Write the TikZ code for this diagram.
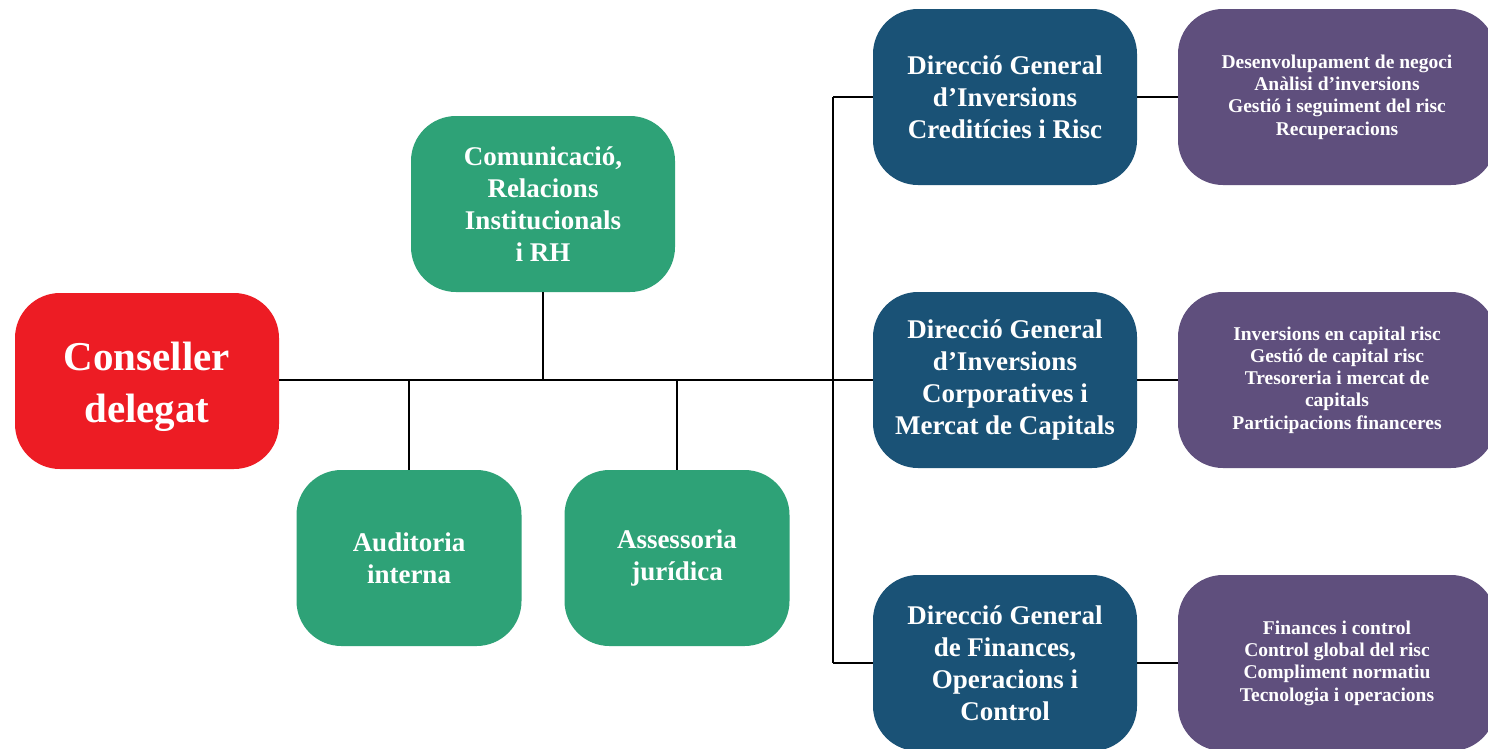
\documentclass[tikz,border=0pt]{standalone}
\usepackage{fontspec}
\setmainfont{Liberation Serif}
\definecolor{cred}{HTML}{ED1C24}
\definecolor{cgreen}{HTML}{2EA277}
\definecolor{cblue}{HTML}{1A5276}
\definecolor{cpurple}{HTML}{5F4F7D}
\tikzset{
  box/.style={rectangle, rounded corners=45pt, draw=none, text=white, align=center,
    minimum height=176pt, inner sep=0pt, font=\bfseries\fontsize{27}{32}\selectfont},
  redbox/.style={box, fill=cred, minimum width=264pt, font=\bfseries\fontsize{41}{52}\selectfont},
  greenbox/.style={box, fill=cgreen},
  bluebox/.style={box, fill=cblue, minimum width=264pt},
  purplebox/.style={box, fill=cpurple, minimum width=318pt, font=\bfseries\fontsize{19.5}{22.3}\selectfont},
  link/.style={draw=black, line width=2pt}
}
\begin{document}
\begin{tikzpicture}[x=1pt,y=-1pt]
\useasboundingbox[fill=white] (0,0) rectangle (1488,748);
\node[redbox] (cons) at (147,381) {};
\node[text=white, align=center, inner sep=0pt, font=\bfseries\fontsize{41}{52}\selectfont] (constext) at ([yshift=-6pt]cons.center) {Conseller\\delegat};
\node[greenbox, minimum width=264pt] (com) at (543,204) {Comunicació,\\Relacions\\Institucionals\\i RH};
\node[greenbox, minimum width=225pt] (aud) at (409,558) {Auditoria\\interna};
\node[greenbox, minimum width=225pt] (ass) at (677,558) {Assessoria\\jurídica};
\node[bluebox] (dg1) at (1005,97) {Direcció General\\d’Inversions\\Creditícies i Risc};
\node[bluebox] (dg2) at (1005,380) {Direcció General\\d’Inversions\\Corporatives i\\Mercat de Capitals};
\node[bluebox] (dg3) at (1005,663) {Direcció General\\de Finances,\\Operacions i\\Control};
\node[purplebox] (p1) at (1337,97) {Desenvolupament de negoci\\Anàlisi d’inversions\\Gestió i seguiment del risc\\Recuperacions};
\node[purplebox] (p2) at (1337,380) {Inversions en capital risc\\Gestió de capital risc\\Tresoreria i mercat de\\capitals\\Participacions financeres};
\node[purplebox] (p3) at (1337,663) {Finances i control\\Control global del risc\\Compliment normatiu\\Tecnologia i operacions};
\coordinate (bus) at (833,380);
\draw[link] (cons.east |- dg2.west) -- (dg2.west);
\draw[link] (com.south) -- (com.south |- bus);
\draw[link] (aud.north) -- (aud.north |- bus);
\draw[link] (ass.north) -- (ass.north |- bus);
\draw[link] (bus |- dg1.west) -- (bus |- dg3.west);
\draw[link] (bus |- dg1.west) -- (dg1.west);
\draw[link] (bus |- dg3.west) -- (dg3.west);
\draw[link] (dg1.east) -- (p1.west);
\draw[link] (dg2.east) -- (p2.west);
\draw[link] (dg3.east) -- (p3.west);
\end{tikzpicture}
\end{document}
